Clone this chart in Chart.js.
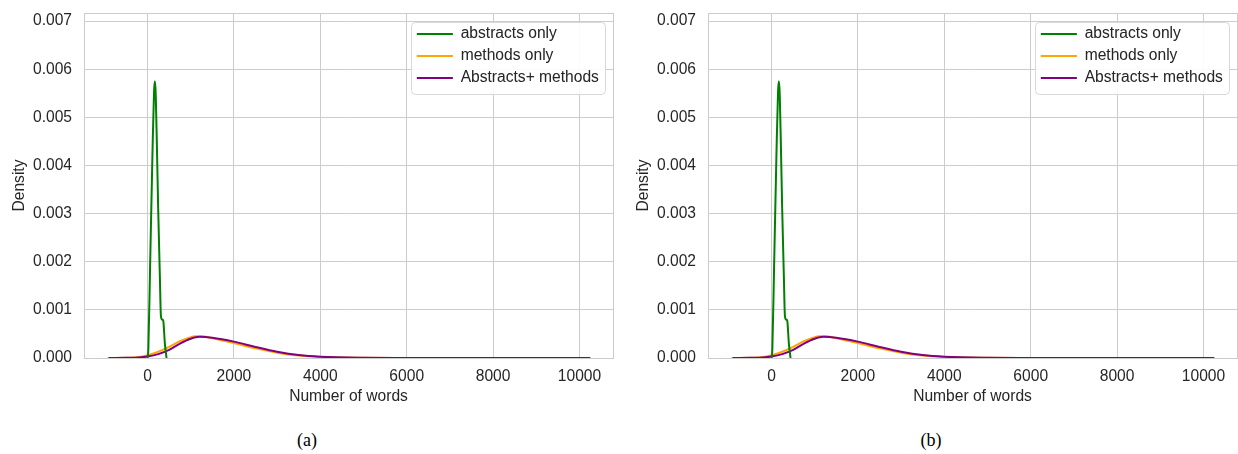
<!DOCTYPE html>
<html>
<head>
<meta charset="utf-8">
<script src="https://cdn.jsdelivr.net/npm/chart.js@4"></script>
<style>
  html, body { margin: 0; padding: 0; background: #fff; }
  body { width: 1238px; height: 454px; position: relative; overflow: hidden; }
  .panel { position: absolute; top: 0; width: 614px; height: 420px; }
  .caption { position: absolute; top: 429px; width: 614px; text-align: center;
             font: 18px "Liberation Serif", serif; line-height: 22px; color: #000; }
</style>
</head>
<body>
<div class="panel" style="left:0"><canvas id="chartA"></canvas></div>
<div class="panel" style="left:624px"><canvas id="chartB"></canvas></div>
<div class="caption" style="left:0">(a)</div>
<div class="caption" style="left:624px">(b)</div>
<script>
// series names and colours
const seriesNames = ["abstracts only", "methods only", "Abstracts+ methods"];
const seriesColors = ["green", "orange", "purple"];

// abstracts only
const abstractWords = [0, 20, 60, 116, 150, 170, 190, 220, 247, 286, 310, 335, 363, 402, 440];
const abstractDensity = [0, 0.0002, 0.0019, 0.0043, 0.0055, 0.00575, 0.0055, 0.0043, 0.0031, 0.0017, 0.00088, 0.0008, 0.00078, 0.0003, 0];

// methods only
const methodsWords = [-920, -500, -200, 0, 250, 500, 750, 1000, 1100, 1250, 1500, 2000, 2500, 3000, 3500, 4000, 5000, 6000, 8000, 10200];
const methodsDensity = [0, 0.000005, 0.00002, 0.00006, 0.00013, 0.00023, 0.00035, 0.00043, 0.00045, 0.00045, 0.00041, 0.00031, 0.0002, 0.00011, 0.00005, 0.00002, 0.000004, 0.000001, 0.0000005, 0];

// abstracts + methods
const bothWords = [-900, -500, -200, 0, 250, 500, 750, 1000, 1200, 1500, 2000, 2500, 3000, 3500, 4000, 5000, 6000, 8000, 10250];
const bothDensity = [0, 0.000004, 0.00001, 0.00003, 0.00008, 0.00017, 0.0003, 0.0004, 0.00044, 0.00042, 0.00034, 0.00023, 0.00013, 0.00006, 0.000025, 0.000005, 0.000002, 0.000001, 0];

const xTicks = [0, 2000, 4000, 6000, 8000, 10000];
const yTicks = [0, 0.001, 0.002, 0.003, 0.004, 0.005, 0.006, 0.007];

const gridColor = "#cccccc";
const textColor = "#262626";
const fontSize = 15.6;

Chart.defaults.font.family = '"Liberation Sans", Arial, sans-serif';
Chart.defaults.font.size = fontSize;
Chart.defaults.color = textColor;

function pts(xs, ys) {
  return xs.map((x, i) => ({ x: x, y: ys[i] }));
}

// border round the plot + framed legend in the top right corner
const frameLegend = {
  id: "frameLegend",
  afterLayout(chart) {
    const lg = chart.legend, ca = chart.chartArea, ctx = chart.ctx;
    ctx.save();
    ctx.font = fontSize + 'px "Liberation Sans", Arial, sans-serif';
    const textW = Math.max(...seriesNames.map(n => ctx.measureText(n).width));
    ctx.restore();
    const w = 6 + 36 + fontSize / 2 + textW + 6;
    const x = ca.right - 8 - w;
    chart.$frame = { x: x, y: ca.top + 9, w: w, h: 72 };
    lg.left = x - 0.5;
    lg.right = lg.left + lg.width;
    lg.top = ca.top + 6.8;
  },
  beforeDatasetsDraw(chart) {
    const ca = chart.chartArea, ctx = chart.ctx;
    ctx.save();
    ctx.strokeStyle = gridColor;
    ctx.lineWidth = 1;
    ctx.strokeRect(Math.round(ca.left) + 0.5, Math.round(ca.top) + 0.5,
                   Math.round(ca.right - ca.left), Math.round(ca.bottom - ca.top));
    ctx.restore();
  },
  afterDatasetsDraw(chart) {
    const f = chart.$frame, ctx = chart.ctx;
    ctx.save();
    ctx.beginPath();
    ctx.roundRect(Math.round(f.x) + 0.5, Math.round(f.y) + 0.5, Math.round(f.w), f.h, 4);
    ctx.fillStyle = "rgba(255,255,255,0.9)";
    ctx.fill();
    ctx.strokeStyle = "#d8d8d8";
    ctx.lineWidth = 1;
    ctx.stroke();
    ctx.restore();
    chart.legend.draw();
  }
};

function series(i, xs, ys, order) {
  return {
    label: seriesNames[i],
    data: pts(xs, ys),
    borderColor: seriesColors[i],
    backgroundColor: seriesColors[i],
    pointBorderColor: seriesColors[i],
    pointBorderWidth: 2,
    borderWidth: 2,
    order: order
  };
}

function makeChart(id) {
  return new Chart(document.getElementById(id), {
    type: "line",
    data: {
      datasets: [
        series(0, abstractWords, abstractDensity, 0),
        series(1, methodsWords, methodsDensity, 2),
        series(2, bothWords, bothDensity, 1)
      ]
    },
    options: {
      responsive: true,
      maintainAspectRatio: false,
      animation: false,
      events: [],
      layout: { padding: { top: 13, right: 1, bottom: 0, left: 0 } },
      elements: {
        point: { radius: 0 },
        line: { cubicInterpolationMode: "monotone" }
      },
      plugins: {
        tooltip: { enabled: false },
        legend: {
          position: "chartArea",
          align: "start",
          labels: {
            usePointStyle: true,
            pointStyle: "line",
            pointStyleWidth: 36,
            padding: 6.4,
            color: textColor,
            font: { size: fontSize },
            sort: (a, b) => a.datasetIndex - b.datasetIndex
          }
        }
      },
      scales: {
        x: {
          type: "linear",
          min: -1470,
          max: 10775,
          afterBuildTicks: s => { s.ticks = xTicks.map(v => ({ value: v })); },
          afterFit: s => { s.height = 62; s.paddingLeft = 0; s.paddingRight = 0; },
          grid: { color: gridColor, drawTicks: false },
          border: { display: false },
          ticks: { padding: 9, color: textColor, callback: v => String(v) },
          title: { display: true, text: "Number of words", color: textColor, font: { size: fontSize }, padding: { top: 0, bottom: 14 } }
        },
        y: {
          type: "linear",
          min: 0,
          max: 0.00717,
          afterBuildTicks: s => { s.ticks = yTicks.map(v => ({ value: v })); },
          afterFit: s => { s.width = 84; s.paddingTop = 0; s.paddingBottom = 0; },
          grid: { color: gridColor, drawTicks: false },
          border: { display: false },
          ticks: { padding: 12, color: textColor, callback: v => Number(v).toFixed(3) },
          title: { display: true, text: "Density", color: textColor, font: { size: fontSize }, padding: { top: 10, bottom: 0 } }
        }
      }
    },
    plugins: [frameLegend]
  });
}

makeChart("chartA");
makeChart("chartB");
</script>
</body>
</html>
